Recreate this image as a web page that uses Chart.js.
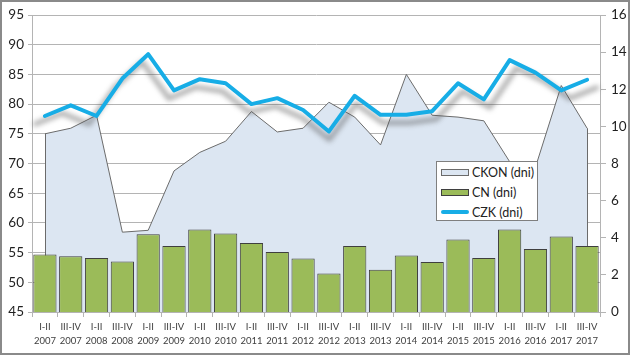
<!DOCTYPE html>
<html>
<head>
<meta charset="utf-8">
<script src="https://cdn.jsdelivr.net/npm/chart.js@4"></script>
<style>
  html, body { margin: 0; padding: 0; background: #fff; }
  #wrap { position: relative; width: 630px; height: 355px; overflow: hidden; }
  #c { position: absolute; left: 0; top: 0; }
  #frame { position: absolute; left: 0; top: 0; width: 630px; height: 355px; box-sizing: border-box; border: 2px solid #8a8a8a; pointer-events: none; }
  #legend { position: absolute; left: 436px; top: 161px; width: 102px; height: 60px; box-sizing: border-box;
            background: #fff; border: 1px solid #7f7f7f; font-family: Lato, "Open Sans", sans-serif; font-size: 12.5px; color: #222; }
  .row { position: absolute; left: 4px; height: 14px; display: flex; align-items: center; }
  .sw { width: 28px; height: 7px; box-sizing: border-box; margin-right: 3px; }
  .ln { width: 28px; height: 4px; border-radius: 2px; margin-right: 3px; }
</style>
</head>
<body>
<div id="wrap">
  <canvas id="c" width="630" height="355"></canvas>
  <div id="legend"></div>
  <div id="frame"></div>
</div>
<script>
const periods = ["I-II","III-IV","I-II","III-IV","I-II","III-IV","I-II","III-IV","I-II","III-IV","I-II","III-IV","I-II","III-IV","I-II","III-IV","I-II","III-IV","I-II","III-IV","I-II","III-IV"];
const years = ["2007","2007","2008","2008","2009","2009","2010","2010","2011","2011","2012","2012","2013","2013","2014","2014","2015","2015","2016","2016","2017","2017"];
const ckon = [9.6, 9.9, 10.6, 4.3, 4.4, 7.6, 8.6, 9.2, 10.8, 9.7, 9.9, 11.3, 10.5, 9.0, 12.8, 10.6, 10.5, 10.3, 8.1, 7.8, 12.2, 9.9];
const cn = [54.7, 54.4, 54.1, 53.5, 58.1, 56.1, 58.9, 58.2, 56.6, 55.1, 54.0, 51.5, 56.1, 52.1, 54.5, 53.4, 57.2, 54.1, 58.9, 55.6, 57.7, 56.1];
const czk = [78.0, 79.8, 78.0, 84.3, 88.4, 82.3, 84.2, 83.5, 80.0, 81.0, 79.0, 75.4, 81.4, 78.2, 78.2, 78.8, 83.5, 80.8, 87.4, 85.3, 82.3, 84.1];
const seriesNames = ["CKON (dni)", "CN (dni)", "CZK (dni)"];
const leftTicks = { min: 45, max: 95, step: 5 };
const rightTicks = { min: 0, max: 16, step: 2 };

const labels = periods.map((p, i) => [p, years[i]]);
const COL = { area: "#dce6f2", areaLine: "#6b6b6b", bar: "#9bbb59", barLine: "#3f3f3f", line: "#17ade6", grid: "#b4b4b4" };
const FONT = "Lato, 'Open Sans', sans-serif";

const shadowPlugin = {
  id: "czkShadow",
  beforeDatasetDraw(chart, args) {
    if (args.index !== 2) return;
    const pts = args.meta.data;
    const ca = chart.chartArea;
    const cx = (ca.left + ca.right) / 2;
    const ctx = chart.ctx;
    ctx.save();
    ctx.filter = "blur(2.5px)";
    ctx.strokeStyle = "rgba(80,80,80,0.45)";
    ctx.lineWidth = 5;
    ctx.lineJoin = "round";
    ctx.lineCap = "round";
    ctx.beginPath();
    pts.forEach((p, i) => {
      const x = cx + (p.x - cx) * 1.035;
      const y = p.y + 8;
      if (i) ctx.lineTo(x, y); else ctx.moveTo(x, y);
    });
    ctx.stroke();
    ctx.restore();
  }
};

const areaEdgePlugin = {
  id: "areaEdges",
  afterDatasetDraw(chart, args) {
    if (args.index !== 0) return;
    const pts = args.meta.data;
    const yb = chart.scales.y1.getPixelForValue(rightTicks.min);
    const ctx = chart.ctx;
    ctx.save();
    ctx.strokeStyle = COL.areaLine;
    ctx.lineWidth = 1;
    ctx.beginPath();
    [pts[0], pts[pts.length - 1]].forEach(p => { ctx.moveTo(Math.round(p.x) + 0.5, p.y); ctx.lineTo(Math.round(p.x) + 0.5, yb); });
    ctx.stroke();
    ctx.restore();
  }
};

new Chart(document.getElementById("c"), {
  type: "bar",
  data: {
    labels: labels,
    datasets: [
      { type: "line", label: seriesNames[0], data: ckon, yAxisID: "y1", order: 3,
        fill: "origin", backgroundColor: COL.area, borderColor: COL.areaLine, borderWidth: 1,
        pointRadius: 0, tension: 0 },
      { type: "bar", label: seriesNames[1], data: cn, yAxisID: "y", order: 2,
        backgroundColor: COL.bar, borderColor: COL.barLine, borderWidth: 1,
        barPercentage: 0.9, categoryPercentage: 1.0 },
      { type: "line", label: seriesNames[2], data: czk, yAxisID: "y", order: 1,
        fill: false, borderColor: COL.line, borderWidth: 4, pointRadius: 0, tension: 0,
        borderJoinStyle: "round", borderCapStyle: "round" }
    ]
  },
  options: {
    responsive: false,
    animation: false,
    layout: { padding: { top: 15, left: 0, right: 0, bottom: 0 } },
    plugins: { legend: { display: false }, tooltip: { enabled: false } },
    scales: {
      x: {
        offset: true,
        grid: { offset: true, drawOnChartArea: false, drawTicks: true, tickLength: 5, color: COL.grid },
        border: { display: true, color: COL.grid },
        ticks: { autoSkip: false, maxRotation: 0, minRotation: 0, padding: 3, color: "#404040",
                 font: { family: FONT, size: 9.5, lineHeight: 1.5 } },
        afterFit(s) { s.height = 43; }
      },
      y: {
        position: "left",
        min: leftTicks.min, max: leftTicks.max, beginAtZero: false,
        ticks: { stepSize: leftTicks.step, padding: 4, color: "#1f1f1f", font: { family: FONT, size: 13.5 } },
        grid: { color: COL.grid, tickLength: 4 },
        border: { display: true, color: COL.grid },
        afterFit(s) { s.width = 32; }
      },
      y1: {
        position: "right",
        min: rightTicks.min, max: rightTicks.max,
        ticks: { stepSize: rightTicks.step, padding: 5, color: "#1f1f1f", font: { family: FONT, size: 13.5 } },
        grid: { drawOnChartArea: false, color: COL.grid, tickLength: 6 },
        border: { display: true, color: COL.grid },
        afterFit(s) { s.width = 30; }
      }
    }
  },
  plugins: [shadowPlugin, areaEdgePlugin]
});

// legend (HTML overlay)
const legend = document.getElementById("legend");
const legendSwatches = [
  `<div class="sw" style="background:${COL.area};border:1px solid ${COL.areaLine}"></div>`,
  `<div class="sw" style="background:${COL.bar};border:1px solid ${COL.barLine}"></div>`,
  `<div class="ln" style="background:${COL.line}"></div>`
];
const rowTops = [3, 23, 43];
seriesNames.forEach((name, i) => {
  const r = document.createElement("div");
  r.className = "row";
  r.style.top = rowTops[i] + "px";
  r.innerHTML = legendSwatches[i] + `<span>${name}</span>`;
  legend.appendChild(r);
});
</script>
</body>
</html>
